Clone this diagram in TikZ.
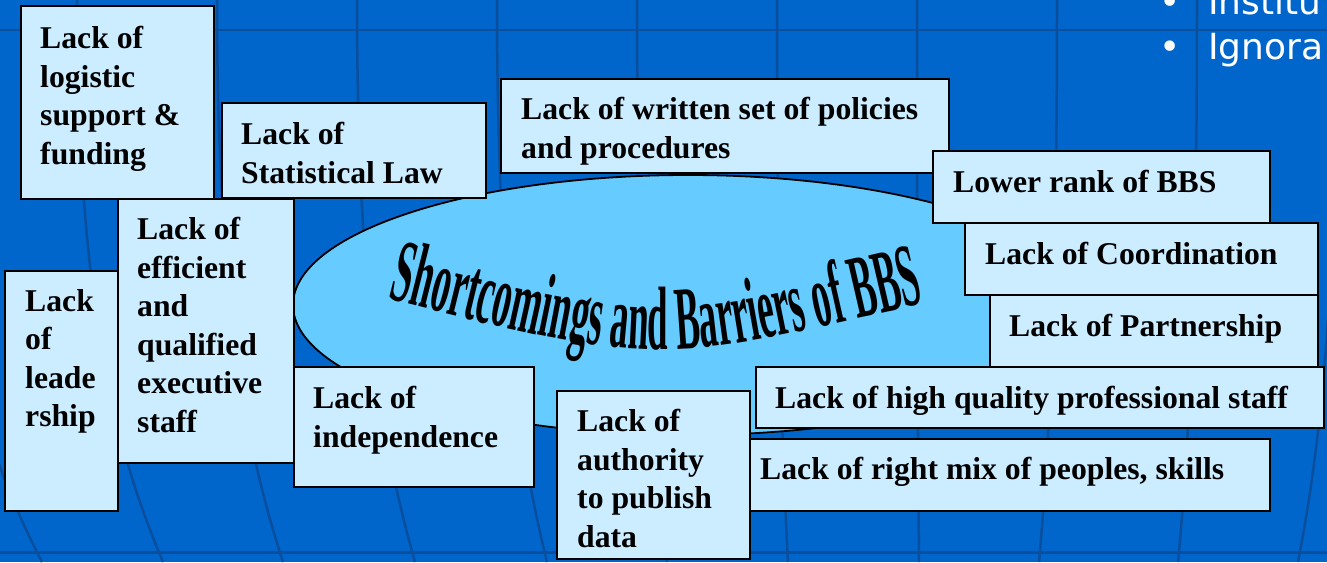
\documentclass[tikz,border=0pt]{standalone}
\usepackage{fontspec}
\usetikzlibrary{shapes.geometric,decorations.text}
\newfontfamily\cardfont{Liberation Serif}
\newfontfamily\arcfont[FakeStretch=0.41]{Liberation Serif}
\newfontfamily\itemfont{DejaVu Sans}
\definecolor{slide}{HTML}{0066CC}
\definecolor{gridline}{HTML}{0A4E9E}
\definecolor{cardfill}{HTML}{CCECFF}
\definecolor{hubfill}{HTML}{66CCFF}

\begin{document}
\begin{tikzpicture}[x=1pt,y=-1pt,
  card/.style={draw=black,line width=2.2pt,fill=cardfill,anchor=north west,inner sep=0pt},
  cardtext/.style={anchor=north west,inner sep=0pt,align=left,font=\cardfont\bfseries\fontsize{31.7}{38.5}\selectfont},
  meridian/.style={draw=gridline,line width=2.5pt},
  itemtext/.style={white,inner sep=0pt,anchor=base west,font=\itemfont\fontsize{36}{45}\selectfont}]
  % Slide background with its curved grid
  \clip (0,0) rectangle (1327,562);
  \fill[slide] (0,0) rectangle (1327,562);
  \foreach \t/\b in {-63/42,77/163,217/283,357/415,497/547,637/667,777/788,917/919,1057/1039,1197/1178,1337/1298}
    \draw[meridian] (\t,0) .. controls (\t,330) and ({\t+0.55*(\b-\t)},470) .. (\b,562);
  \draw[meridian,line width=1.2pt] (0,30) -- (1327,30);
  \draw[meridian,line width=3pt] (0,552) -- (1327,552);

  % Bullet list cut by the right edge
  \node[itemtext,anchor=base] (dotA) at (1170,14) {•};
  \node[itemtext] (inst) at (1208,14) {Institu};
  \node[itemtext,anchor=base] (dotB) at (1170,59) {•};
  \node[itemtext] (igno) at (1208,59) {Ignora};

  % Central ellipse with arched title
  \node[draw=black,line width=1.8pt,fill=hubfill,ellipse,minimum width=790,minimum height=260,inner sep=0pt] (hub) at (688,305) {};
  \path[decorate,decoration={text along path,text align=center,
      text={|\arcfont\bfseries\fontsize{90}{90}\selectfont|Shortcomings and Barriers of BBS}}]
    (384,298) .. controls (655,366) .. (928,302);

  % Left group
  \node[card,minimum width=193,minimum height=193] (logistic) at (20,5) {};
  \node[cardtext] (logistic-t) at ([shift={(20,21)}]logistic.north west) {Lack of\\logistic\\support \&\\funding};
  \node[card,minimum width=264,minimum height=95] (statlaw) at (221,102) {};
  \node[cardtext] (statlaw-t) at ([shift={(20,20)}]statlaw.north west) {Lack of\\Statistical Law};
  \node[card,minimum width=176,minimum height=264] (efficient) at (117,198) {};
  \node[cardtext] (efficient-t) at ([shift={(20,19)}]efficient.north west) {Lack of\\efficient\\and\\qualified\\executive\\staff};
  \node[card,minimum width=113,minimum height=240] (leader) at (4,270) {};
  \node[cardtext] (leader-t) at ([shift={(21,19)}]leader.north west) {Lack\\of\\leade\\rship};

  % Top and right group
  \node[card,minimum width=448,minimum height=94] (written) at (500,78) {};
  \node[cardtext] (written-t) at ([shift={(21,19)}]written.north west) {Lack of written set of policies\\and procedures};
  \node[card,minimum width=337,minimum height=72] (rank) at (932,150) {};
  \node[cardtext] (rank-t) at ([shift={(21,20)}]rank.north west) {Lower rank of BBS};
  \node[card,minimum width=353,minimum height=72] (coord) at (964,222) {};
  \node[cardtext] (coord-t) at ([shift={(21,20)}]coord.north west) {Lack of Coordination};
  \node[card,minimum width=328,minimum height=72] (partner) at (989,294) {};
  \node[cardtext] (partner-t) at ([shift={(20,20)}]partner.north west) {Lack of Partnership};
  \node[card,minimum width=568,minimum height=61] (quality) at (755,366) {};
  \node[cardtext] (quality-t) at ([shift={(20,20)}]quality.north west) {Lack of high quality professional staff};
  \node[card,minimum width=529,minimum height=72] (mix) at (740,438) {};
  \node[cardtext] (mix-t) at ([shift={(20,19)}]mix.north west) {Lack of right mix of peoples, skills};

  % Bottom group
  \node[card,minimum width=240,minimum height=120] (indep) at (293,366) {};
  \node[cardtext] (indep-t) at ([shift={(20,20)}]indep.north west) {Lack of\\independence};
  \node[card,minimum width=193,minimum height=168] (publish) at (556,390) {};
  \node[cardtext] (publish-t) at ([shift={(21,19)}]publish.north west) {Lack of\\authority\\to publish\\data};
\end{tikzpicture}
\end{document}
